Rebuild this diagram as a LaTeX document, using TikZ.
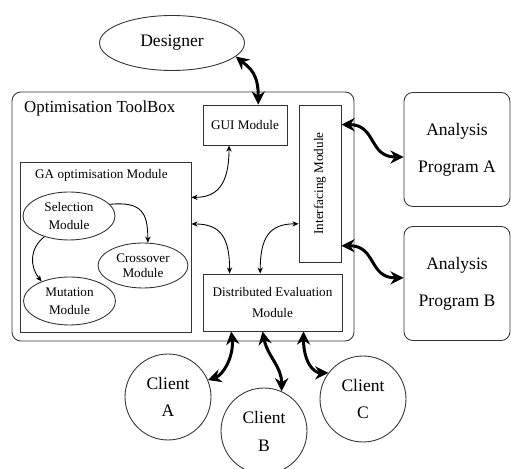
\documentclass[tikz,border=0pt]{standalone}
\usepackage{fontspec}
\setmainfont{Liberation Serif}
\usetikzlibrary{shapes.geometric,arrows.meta}

\begin{document}
\begin{tikzpicture}[x=0.02cm,y=-0.02cm,
		box/.style={draw=black!80,line width=0.5pt,inner sep=0pt},
		small/.style={font=\fontsize{7.5}{10}\selectfont},
		big/.style={font=\fontsize{10}{15}\selectfont},
		oval/.style={box,ellipse,small,align=center,minimum width=1.84cm,minimum height=0.96cm},
		client/.style={box,circle,big,align=center,minimum size=1.72cm},
		program/.style={box,rounded corners=5pt,align=center,font=\fontsize{10}{21}\selectfont,minimum width=2.12cm,minimum height=2.28cm},
		link/.style={line width=1.7pt,{Stealth[length=7.5pt,width=7.5pt]}-{Stealth[length=7.5pt,width=7.5pt]}},
		twoway/.style={line width=0.5pt,{Stealth[length=3.5pt,width=3pt]}-{Stealth[length=3.5pt,width=3pt]}},
		flow/.style={line width=0.5pt,-{Stealth[length=3.5pt,width=3pt]}}]
		\useasboundingbox (0,0) rectangle (511,469);
		% toolbox frame and its modules
		\node[box,rounded corners=5pt,minimum width=6.84cm,minimum height=4.98cm] (tbx) at (183,216.5) {};
		\node[font=\fontsize{9.6}{12}\selectfont,anchor=west] (tbxname) at (18,108) {Optimisation ToolBox};
		\node[box,ellipse,big,minimum width=2.9cm,minimum height=1.1cm] (des) at (172,43) {Designer};
		\node[box,small,minimum width=1.68cm,minimum height=0.8cm] (gui) at (245,125) {GUI Module};
		\node[box,minimum width=0.84cm,minimum height=3.14cm] (intf) at (320,183.5) {};
		\node[small,rotate=90] (intfname) at (intf) {Interfacing Module};
		\node[box,minimum width=3.42cm,minimum height=3.4cm] (ga) at (105.5,247) {};
		\node[small,anchor=west] (ganame) at (29,175) {GA optimisation Module};
		\node[oval] (sel) at (69,216) {Selection\\Module};
		\node[oval,minimum width=1.8cm,minimum height=0.9cm] (cro) at (143,265.5) {Crossover\\[-1.5pt]Module};
		\node[oval] (mut) at (69.5,301) {Mutation\\Module};
		\node[box,small,align=center,font=\fontsize{7.5}{12}\selectfont,minimum width=2.78cm,minimum height=1.14cm] (de) at (272.5,302.5) {Distributed Evaluation\\Module};
		% outside programs and clients
		\node[program] (anA) at (457,149.5) {Analysis\\Program A};
		\node[program] (anB) at (457,283.5) {Analysis\\Program B};
		\node[client] (cA) at (168,397) {Client\\A};
		\node[client,font=\fontsize{10}{16}\selectfont] (cB) at (264,431) {Client\\B};
		\node[client] (cC) at (363,399) {Client\\C};
		% thick links
		\draw[link] (des.-12) .. controls +(15,12) and +(0,-30) .. (gui.57);
		\draw[link] (intf.70) .. controls +(35,0) and +(-35,0) .. (anA.188);
		\draw[link] (intf.-71) .. controls +(35,0) and +(-35,0) .. (anB.174);
		\draw[link] (de.215) .. controls +(3,25) and +(15,-5) .. (cA.23);
		\draw[link] (de.251) .. controls +(5,25) and +(0,-25) .. (cB.66);
		\draw[link] (de.-43) .. controls +(0,30) and +(-15,0) .. (cC.143);
		% thin links inside the toolbox
		\draw[twoway] (gui.232) .. controls +(0,40) and +(25,0) .. (ga.30);
		\draw[twoway] (ga.15) .. controls +(30,0) and +(0,-35) .. (de.146.5);
		\draw[twoway] (intf.242) .. controls +(-30,0) and +(0,-35) .. (de.113);
		\draw[flow] (sel.16) .. controls +(32,-3) and +(0,-30) .. (cro.78);
		\draw[flow] (sel.220) .. controls +(-15,12) and +(-12,-15) .. (mut.145);
\end{tikzpicture}
\end{document}
